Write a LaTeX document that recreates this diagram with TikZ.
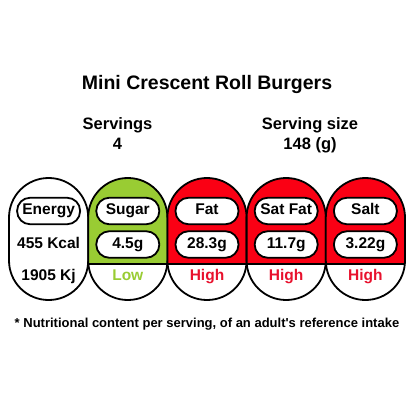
\documentclass[tikz,border=0pt]{standalone}
\usepackage{fontspec}
\setmainfont{Liberation Sans}
\usetikzlibrary{positioning}
\definecolor{lowgreen}{RGB}{153,204,51}
\definecolor{highred}{RGB}{250,0,20}
\definecolor{highink}{RGB}{232,17,45}
\tikzset{
    every node/.style={font=\bfseries\fontsize{15.5}{18}\selectfont, text height=0.72em, text depth=0pt, inner sep=0pt},
    col box/.style={line width=1.8pt, rounded corners=39.5pt},
    pill node/.style={draw, line width=1.8pt, fill=white, rounded corners=13pt, minimum width=63pt, minimum height=26.5pt}
}
\begin{document}
\begin{tikzpicture}[x=1pt,y=-1pt]

    \useasboundingbox (0,0) rectangle (414,414);

    \node (title) at (207,86) {\fontsize{19.5}{22}\selectfont Mini Crescent Roll Burgers};
    \node (servings) at (117.5,126) {\fontsize{16.5}{19}\selectfont Servings};
    \node (servnum) at (117.5,145.5) {\fontsize{16.5}{19}\selectfont 4};
    \node (size) at (310,126) {\fontsize{16.5}{19}\selectfont Serving size};
    \node (sizenum) at (310,145.5) {\fontsize{16.5}{19}\selectfont 148 (g)};

    % energy column, no rating
    \draw[col box] (9,178) rectangle (88.2,300);
    \node[pill node] (energy) at (48.6,211) {Energy};
    \node (kcal) at (48.6,244.5) {455 Kcal};
    \node (kj) at (48.6,276.5) {1905 Kj};

    \foreach \cx/\tone/\ink/\lab/\val/\lvl [count=\i] in {127.8/lowgreen/lowgreen/Sugar/4.5g/Low, 207/highred/highink/Fat/28.3g/High, 286.2/highred/highink/Sat Fat/11.7g/High, 365.4/highred/highink/Salt/3.22g/High} {
        \begin{scope}
            \clip[rounded corners=39.5pt] (\cx-39.6,178) rectangle (\cx+39.6,300);
            \fill[\tone] (\cx-39.6,178) rectangle (\cx+39.6,264);
        \end{scope}
        \draw[line width=1.8pt] (\cx-39.6,264) -- (\cx+39.6,264);
        \draw[col box] (\cx-39.6,178) rectangle (\cx+39.6,300);
        \node[pill node] (lab\i) at (\cx,211) {\lab};
        \node[pill node] (val\i) at (\cx,244.5) {\val};
        \node[text=\ink] (lvl\i) at (\cx,276.5) {\lvl};
    }

    \node (note) at (207,323.6) {\fontsize{13}{15}\selectfont * Nutritional content per serving, of an adult\textquotesingle s reference intake};

\end{tikzpicture}
\end{document}
